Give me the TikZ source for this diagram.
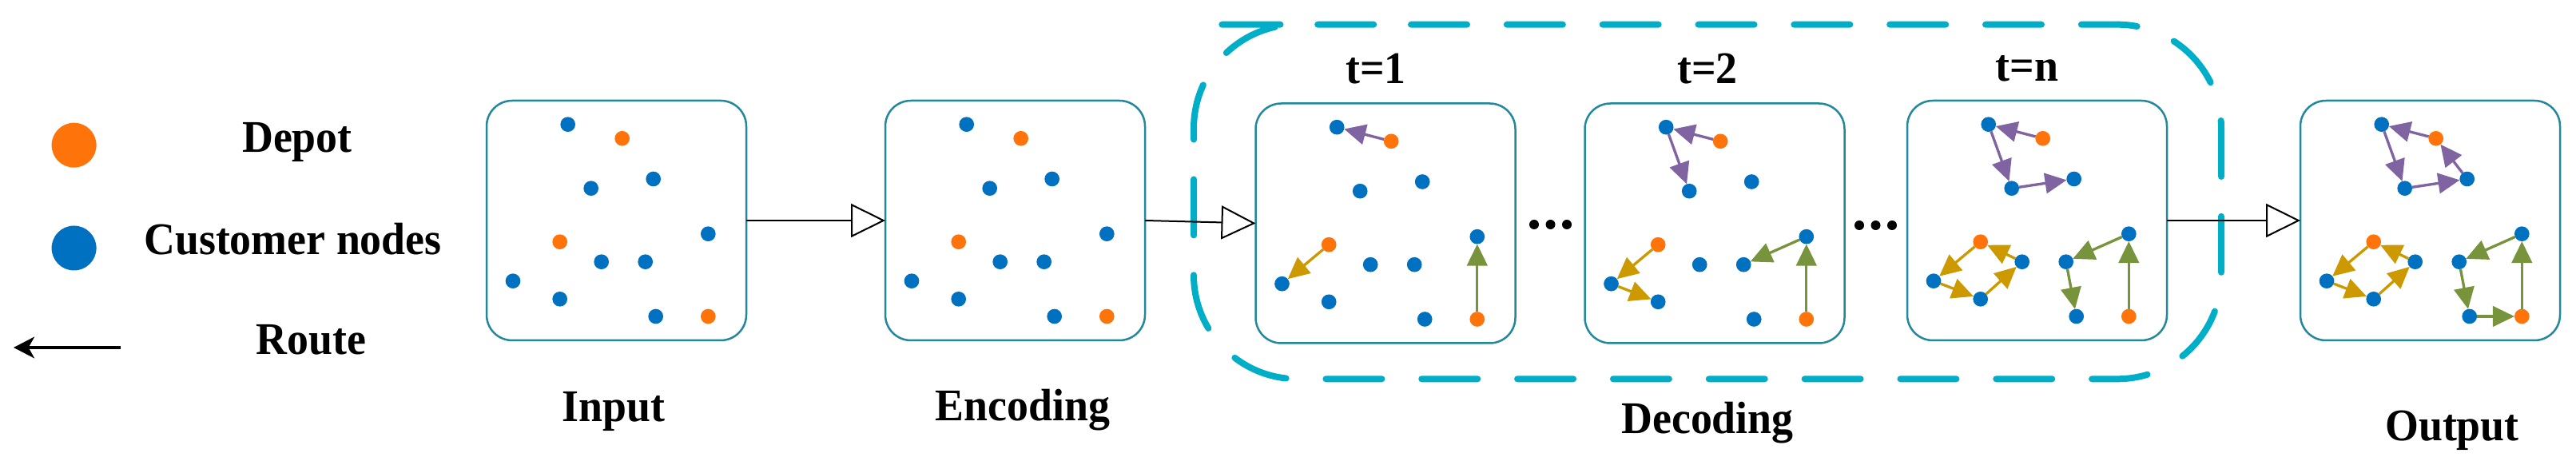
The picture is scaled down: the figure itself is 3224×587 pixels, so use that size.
\documentclass[tikz,border=0pt]{standalone}
\usepackage{fontspec}
\setmainfont{Liberation Serif}[FakeStretch=0.95]
\usetikzlibrary{arrows.meta,calc}
\definecolor{boxteal}{RGB}{35,136,155}
\definecolor{dashcyan}{RGB}{0,174,199}
\definecolor{dorange}{RGB}{255,116,10}
\definecolor{cblue}{RGB}{0,112,192}
\definecolor{rpurple}{RGB}{128,100,162}
\definecolor{rgold}{RGB}{204,153,0}
\definecolor{rgreen}{RGB}{119,147,60}
\newcommand\placedots[2]{%
  \foreach \i/\dx/\dy/\s in {1/-60.8/-120.3/cdot,2/7.2/-102.7/ddot,3/-31.8/-40.3/cdot,4/46.2/-52/cdot,5/114.8/16.7/cdot,6/-70.8/26.7/ddot,7/-18.8/51.7/cdot,8/36.2/51.7/cdot,9/-129.5/75.7/cdot,10/-70.8/98.3/cdot,11/49.2/120/cdot,12/114.8/120/ddot}{%
    \node[\s] (#1\i) at ($(#2)+(\dx,\dy)$) {};}}
\newcommand\rte[3]{\draw[route,#1] (#2) -- (#3);}
\begin{document}
\begin{tikzpicture}[x=0.3pt,y=-0.3pt,
  panel/.style={draw=boxteal,line width=0.75pt,rounded corners=9.6pt,minimum width=97.5pt,minimum height=90pt,inner sep=0pt,outer sep=0pt},
  cdot/.style={circle,inner sep=0pt,outer sep=0pt,minimum size=5.6pt,fill=cblue},
  ddot/.style={cdot,fill=dorange},
  bigdot/.style={circle,inner sep=0pt,outer sep=0pt,minimum size=16.8pt},
  lbl/.style={font=\fontsize{17}{20}\selectfont\bfseries,inner sep=0pt,anchor=base},
  flow/.style={line width=0.6pt,-{Triangle[open,length=12.9pt,width=12.6pt]}},
  route/.style={line width=1pt,-{Triangle[length=8.1pt,width=7.6pt]}},
  frame/.style={draw=dashcyan,line width=2.4pt,line cap=round,dash pattern=on 21pt off 14.95pt,rounded corners=39pt}]
\useasboundingbox (0,0) rectangle (3224,587);

% legend
\node[bigdot,fill=dorange] (ldep) at (92.6,181.7) {};
\node[bigdot,fill=cblue] (lcus) at (92.6,310.5) {};
\node[lbl] (tdep) at (372,190.7) {Depot};
\node[lbl] (tcus) at (366.5,318.3) {Customer nodes};
\node[lbl] (trou) at (389.4,443.3) {Route};
\coordinate (rs) at (151,435);
\coordinate (re) at (17,435);
\draw[line width=1pt,-{Stealth[length=7.8pt,width=8pt,inset=2.2pt]}] (rs) -- (re);

% decoding frame
\draw[frame] (1636,30.7) -- (2780,30.7) -- (2780,474.3) -- (1494,474.3) -- (1494,30.7) -- cycle;

% panels
\node[panel] (boxin) at (771.5,276) {};
\node[panel] (boxenc) at (1270.5,276) {};
\node[panel] (boxta) at (1734,279.5) {};
\node[panel] (boxtb) at (2146,279.5) {};
\node[panel] (boxtc) at (2549.5,276) {};
\node[panel] (boxout) at (3041.5,276) {};

\placedots{pin}{boxin}
\placedots{penc}{boxenc}
\placedots{pa}{boxta}
\placedots{pb}{boxtb}
\placedots{pc}{boxtc}
\placedots{pout}{boxout}

% flow connectors
\draw[flow] (boxin.east) -- (boxenc.west);
\draw[flow] (boxenc.east) -- (boxta.west);
\draw[flow] (boxtc.east) -- (boxout.west);

% ellipses
\foreach \x in {1920,1940.5,1961} \fill (\x,281) circle[radius=6];
\foreach \x in {2327,2347.5,2368} \fill (\x,282) circle[radius=6];

% labels
\node[lbl] (lin) at (768,528) {Input};
\node[lbl] (lenc) at (1280,527) {Encoding};
\node[lbl] (ldec) at (2137,543) {Decoding};
\node[lbl] (lout) at (3069,552) {Output};
\node[lbl] (lta) at (1722,105) {t=1};
\node[lbl] (ltb) at (2137,105) {t=2};
\node[lbl] (ltc) at (2537,102) {t=n};

% routes t=1
\rte{rpurple}{pa2}{pa1}
\rte{rgold}{pa6}{pa9}
\rte{rgreen}{pa12}{pa5}
% routes t=2
\rte{rpurple}{pb2}{pb1}
\rte{rpurple}{pb1}{pb3}
\rte{rgold}{pb6}{pb9}
\rte{rgold}{pb9}{pb10}
\rte{rgreen}{pb12}{pb5}
\rte{rgreen}{pb5}{pb8}
% routes t=n
\rte{rpurple}{pc2}{pc1}
\rte{rpurple}{pc1}{pc3}
\rte{rpurple}{pc3}{pc4}
\rte{rgold}{pc6}{pc9}
\rte{rgold}{pc9}{pc10}
\rte{rgold}{pc10}{pc7}
\rte{rgold}{pc7}{pc6}
\rte{rgreen}{pc12}{pc5}
\rte{rgreen}{pc5}{pc8}
\rte{rgreen}{pc8}{pc11}
% routes output
\rte{rpurple}{pout2}{pout1}
\rte{rpurple}{pout1}{pout3}
\rte{rpurple}{pout3}{pout4}
\rte{rpurple}{pout4}{pout2}
\rte{rgold}{pout6}{pout9}
\rte{rgold}{pout9}{pout10}
\rte{rgold}{pout10}{pout7}
\rte{rgold}{pout7}{pout6}
\rte{rgreen}{pout12}{pout5}
\rte{rgreen}{pout5}{pout8}
\rte{rgreen}{pout8}{pout11}
\rte{rgreen}{pout11}{pout12}
\end{tikzpicture}
\end{document}
